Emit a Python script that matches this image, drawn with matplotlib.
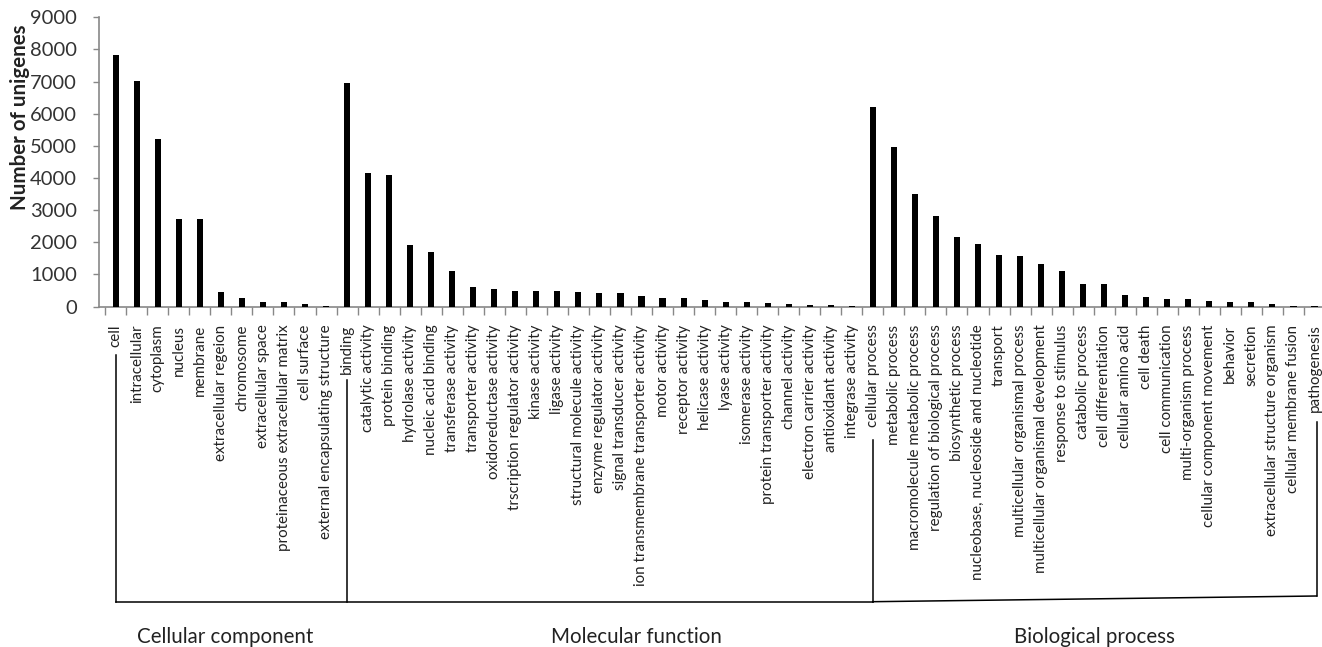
import matplotlib
matplotlib.use("Agg")
import matplotlib.pyplot as plt
import matplotlib.transforms as mtransforms
from matplotlib.ticker import FixedLocator, NullFormatter
from matplotlib.lines import Line2D

plt.rcParams['font.family'] = ['Lato', 'DejaVu Sans']

cellular_component = ["cell", "intracellular", "cytoplasm", "nucleus", "membrane",
                      "extracellular regeion", "chromosome", "extracellular space",
                      "proteinaceous extracellular matrix", "cell surface",
                      "external encapsulating structure"]
cellular_values = [7820, 7030, 5200, 2710, 2710, 465, 250, 146, 125, 84, 5]

molecular_function = ["binding", "catalytic activity", "protein binding", "hydrolase activity",
                      "nucleic acid binding", "transferase activity", "transporter activity",
                      "oxidoreductase activity", "trscription regulator activity",
                      "kinase activity", "ligase activity", "structural molecule activity",
                      "enzyme regulator activity", "signal transducer activity",
                      "ion transmembrane transporter activity", "motor activity",
                      "receptor activity", "helicase activity", "lyase activity",
                      "isomerase activity", "protein transporter activity", "channel activity",
                      "electron carrier activity", "antioxidant activity", "integrase activity"]
molecular_values = [6960, 4160, 4080, 1910, 1690, 1100, 610, 530, 476, 476, 476, 436,
                    425, 425, 330, 280, 260, 196, 143, 134, 103, 93, 62, 50, 5]

biological_process = ["cellular process", "metabolic process", "macromolecule metabolic process",
                      "regulation of biological process", "biosynthetic process",
                      "nucleobase, nucleoside and nucleotide", "transport",
                      "multicellular organismal process", "multicellular organismal development",
                      "response to stimulus", "catabolic process", "cell differentiation",
                      "cellular amino acid", "cell death", "cell communication",
                      "multi-organism process", "cellular component movement", "behavior",
                      "secretion", "extracellular structure organism",
                      "cellular membrane fusion", "pathogenesis"]
biological_values = [6200, 4970, 3510, 2810, 2160, 1940, 1600, 1560, 1310, 1110, 695, 695,
                     343, 300, 218, 218, 175, 134, 134, 81, 3, 3]

group_names = ["Cellular component", "Molecular function", "Biological process"]
y_ticks = [0, 1000, 2000, 3000, 4000, 5000, 6000, 7000, 8000, 9000]

categories = cellular_component + molecular_function + biological_process
values = cellular_values + molecular_values + biological_values

W, H = 1322, 647
fig = plt.figure(figsize=(W / 100, H / 100), dpi=100)

ax_left, ax_right = 99, 1325
ax_bottom, ax_top = 306.5, 17.3
ax = fig.add_axes([ax_left / W, 1 - ax_bottom / H, (ax_right - ax_left) / W,
                   (ax_bottom - ax_top) / H])

n = len(categories)
x = list(range(n))
ax.bar(x, values, width=0.29, color='black', zorder=3)

ax.set_xlim(-0.795, n - 0.5)
ax.set_ylim(0, 9000)
ax.set_yticks(y_ticks)
ax.set_yticklabels([str(v) for v in y_ticks], fontsize=14.5, color='#333333')

ax.set_xticks(x)
ax.set_xticklabels(categories, rotation=90, fontsize=10.9, color='#222222', va='top')
ax.xaxis.set_minor_locator(FixedLocator([i - 0.5 for i in range(n + 1)]))
ax.xaxis.set_minor_formatter(NullFormatter())
ax.tick_params(axis='x', which='major', length=0, pad=13)
ax.tick_params(axis='x', which='minor', length=6, color='#888888', width=1)
ax.tick_params(axis='y', length=4, color='#888888', width=1, pad=12)

for side in ['top', 'right']:
    ax.spines[side].set_visible(False)
for side in ['left', 'bottom']:
    ax.spines[side].set_color('#888888')
    ax.spines[side].set_linewidth(1.2)

fig.text(20 / W, 1 - 117.5 / H, "Number of unigenes", rotation=90, fontsize=14.8,
         fontweight='bold', ha='center', va='center', color='#222222')

# bracket lines under labels
trans = mtransforms.blended_transform_factory(ax.transData, fig.transFigure)
line_y = 1 - 601.7 / H
starts = [0, len(cellular_component), len(cellular_component) + len(molecular_function)]
tops = [355, 380, 440]
for s, t in zip(starts, tops):
    ax.add_line(Line2D([s, s], [1 - t / H, line_y], transform=trans, color='black',
                       lw=1.1, clip_on=False))
last = n - 1
ax.add_line(Line2D([last + 0.1, last + 0.1], [1 - 422 / H, 1 - 596 / H], transform=trans,
                   color='black', lw=1.1, clip_on=False))
ax.add_line(Line2D([0, starts[2]], [line_y, line_y], transform=trans, color='black',
                   lw=1.1, clip_on=False))
ax.add_line(Line2D([starts[2], last + 0.1], [line_y, 1 - 596 / H], transform=trans,
                   color='black', lw=1.1, clip_on=False))

group_centers = [225, 636, 1094]
for name, cx in zip(group_names, group_centers):
    fig.text(cx / W, 1 - 636.7 / H, name, fontsize=14.8, ha='center', va='center',
             color='#222222')

fig.savefig("out.png", dpi=100)
